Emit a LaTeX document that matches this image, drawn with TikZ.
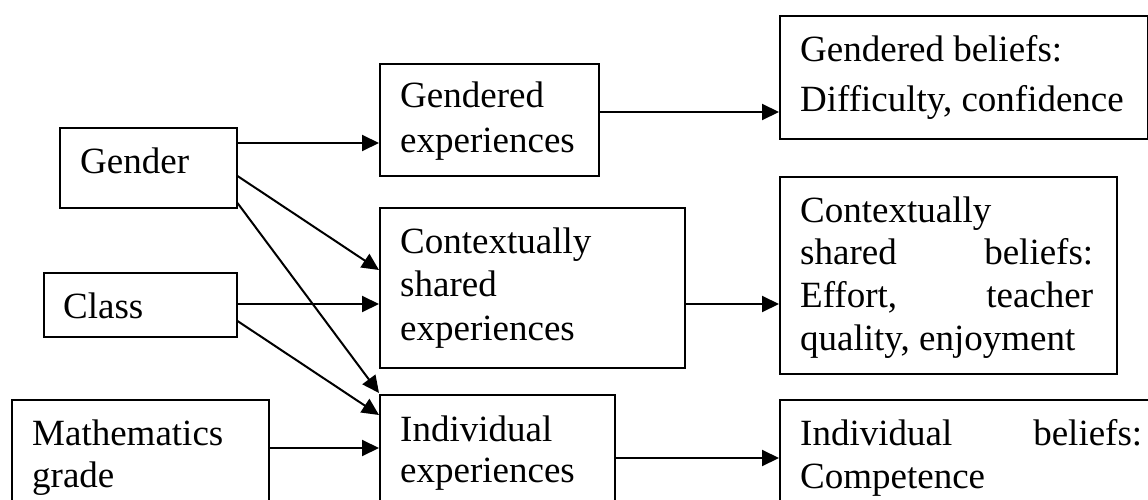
\documentclass[tikz,border=0pt]{standalone}
\usepackage{fontspec}
\setmainfont{Liberation Serif}
\usetikzlibrary{arrows.meta,calc}
\tikzset{
  box/.style={draw, line width=2pt, rectangle, inner sep=0pt, anchor=north west},
  txt/.style={inner sep=0pt, anchor=base west, font=\fontsize{37}{43}\selectfont},
  arr/.style={line width=2pt, -{Triangle[length=17pt,width=16pt]}}
}
\begin{document}
\begin{tikzpicture}[x=1pt,y=-1pt]
\clip (0,0) rectangle (1148,500);
\fill[white] (0,0) rectangle (1148,500);
% boxes
\node[box, minimum width=176.5pt, minimum height=80pt]  (gender) at (59,127) {};
\node[box, minimum width=192.5pt, minimum height=64pt]  (class)  at (43,272) {};
\node[box, minimum width=257pt,   minimum height=120pt] (math)   at (11,399) {};
\node[box, minimum width=219pt,   minimum height=112pt] (gexp)   at (379,63) {};
\node[box, minimum width=305pt,   minimum height=160pt] (cexp)   at (379,207) {};
\node[box, minimum width=235pt,   minimum height=120pt] (iexp)   at (379,394) {};
\node[box, minimum width=368pt,   minimum height=123pt] (gbel)   at (779,15) {};
\node[box, minimum width=337pt,   minimum height=197pt] (cbel)   at (779,176) {};
\node[box, minimum width=380pt,   minimum height=120pt] (ibel)   at (779,399) {};
% texts
\node[txt] (tgender) at (80,173) {Gender};
\node[txt] (tclass)  at (63,318) {Class};
\node[txt] (tmath)   at (32,445) {\vtop{\baselineskip=42pt\hbox{Mathematics}\hbox{grade}}};
\node[txt] (tgexp)   at (400,108) {\vtop{\baselineskip=44pt\hbox{Gendered}\hbox{experiences}}};
\node[txt] (tcexp)   at (400,253) {\vtop{\baselineskip=43.5pt\hbox{Contextually}\hbox{shared}\hbox{experiences}}};
\node[txt] (tiexp)   at (400,441) {\vtop{\baselineskip=41.5pt\hbox{Individual}\hbox{experiences}}};
\node[txt] (tgbel)   at (800,62)  {\vtop{\baselineskip=50pt\hbox{Gendered beliefs:}\hbox{Difficulty, confidence}}};
\node[txt] (tcbel)   at (800,222) {\vtop{\baselineskip=42.7pt\hbox{Contextually}\hbox to 293pt{shared\hfill beliefs:}\hbox to 293pt{Effort,\hfill teacher}\hbox{quality, enjoyment}}};
\node[txt] (tibel)   at (800,445) {\vtop{\baselineskip=43pt\hbox to 342pt{Individual\hfill beliefs:}\hbox{Competence}}};
% connectors
\draw[arr] ($(gender.north east)+(0,16)$) -- ($(gexp.north west)+(0,80)$);
\draw[arr] ($(gexp.north east)+(0,49)$)   -- ($(gbel.north west)+(0,97)$);
\draw[arr] ($(gender.north east)+(0,49)$) -- ($(cexp.north west)+(0,63)$);
\draw[arr] ($(gender.north east)+(0,76)$) -- ($(iexp.north west)+(0,-1)$);
\draw[arr] ($(class.north east)+(0,32)$)  -- ($(cexp.north west)+(0,97)$);
\draw[arr] ($(class.north east)+(0,49)$)  -- ($(iexp.north west)+(0,21)$);
\draw[arr] ($(math.north east)+(0,49)$)   -- ($(iexp.north west)+(0,54)$);
\draw[arr] ($(cexp.north east)+(0,97)$)   -- ($(cbel.north west)+(0,128)$);
\draw[arr] ($(iexp.north east)+(0,64)$)   -- ($(ibel.north west)+(0,59)$);
\end{tikzpicture}
\end{document}
